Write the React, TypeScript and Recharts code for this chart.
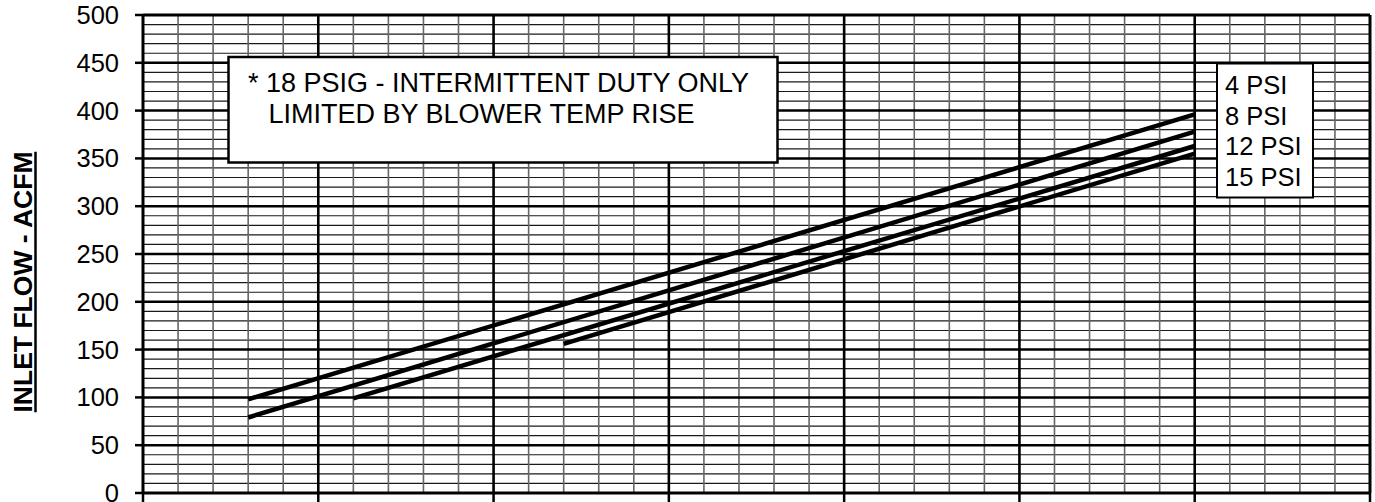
import React from "react";
import { LineChart, Line, XAxis, YAxis, ReferenceLine } from "recharts";

// ---- axes / grid values ----
const xMajorTicks = [0, 500, 1000, 1500, 2000, 2500, 3000, 3500];
const xMinorStep = 100;
const yMajorTicks = [0, 50, 100, 150, 200, 250, 300, 350, 400, 450, 500];
const yMinorStep = 10;

// ---- series (x = speed, y = inlet flow ACFM) ----
const psi4 = [
  { rpm: 300, cfm: 98 },
  { rpm: 3000, cfm: 396 },
];
const psi8 = [
  { rpm: 300, cfm: 79 },
  { rpm: 3000, cfm: 378 },
];
const psi12 = [
  { rpm: 600, cfm: 99 },
  { rpm: 3000, cfm: 363 },
];
const psi15 = [
  { rpm: 1200, cfm: 156 },
  { rpm: 3000, cfm: 355 },
];

const legendLabels = ["4 PSI", "8 PSI", "12 PSI", "15 PSI"];
const noteLines = ["* 18 PSIG - INTERMITTENT DUTY ONLY", "LIMITED BY BLOWER TEMP RISE"];
const yTitle = "INLET FLOW - ACFM";

const FONT = "'Liberation Sans', Arial, Helvetica, sans-serif";

const xMin = xMajorTicks[0];
const xMax = xMajorTicks[xMajorTicks.length - 1];
const yMin = yMajorTicks[0];
const yMax = yMajorTicks[yMajorTicks.length - 1];

const xMinor: number[] = [];
for (let v = xMin + xMinorStep; v < xMax; v += xMinorStep) {
  if (v % 500 !== 0) xMinor.push(v);
}
const yMinor: number[] = [];
for (let v = yMin + yMinorStep; v < yMax; v += yMinorStep) {
  if (v % 50 !== 0) yMinor.push(v);
}

const YTick = (props: any) => {
  const { x, y, payload } = props;
  return (
    <text x={x} y={y} dy="0.355em" textAnchor="end" fontSize={25.5} fontFamily={FONT} fill="#000">
      {payload.value}
    </text>
  );
};

export default function App() {
  const W = 1375;
  const H = 502;
  return (
    <div style={{ position: "absolute", left: 0, top: 0, width: W, height: H, background: "#fff" }}>
      <LineChart width={W} height={H} margin={{ top: 15, right: 5, bottom: 0, left: 0 }}>
        <XAxis
          dataKey="rpm"
          type="number"
          domain={[xMin, xMax]}
          ticks={xMajorTicks}
          tickSize={9}
          height={9}
          axisLine={false}
          tickLine={{ stroke: "#000", strokeWidth: 2.5 }}
          tickFormatter={() => ""}
          allowDataOverflow
        />
        <YAxis
          type="number"
          domain={[yMin, yMax]}
          ticks={yMajorTicks}
          width={143}
          tickSize={8}
          tickMargin={16}
          axisLine={false}
          tickLine={{ stroke: "#000", strokeWidth: 2.5 }}
          tick={<YTick />}
          interval={0}
          allowDataOverflow
        />
        {yMinor.map((v) => (
          <ReferenceLine key={"ym" + v} y={v} stroke="#1a1a1a" strokeWidth={1.2} />
        ))}
        {xMinor.map((v) => (
          <ReferenceLine key={"xm" + v} x={v} stroke="#666" strokeWidth={1.6} />
        ))}
        {yMajorTicks.map((v) => (
          <ReferenceLine key={"yM" + v} y={v} stroke="#000" strokeWidth={v === yMin || v === yMax ? 3 : 2.5} />
        ))}
        {xMajorTicks.map((v) => (
          <ReferenceLine key={"xM" + v} x={v} stroke="#000" strokeWidth={v === xMin || v === xMax ? 3 : 2.6} />
        ))}
        {[psi4, psi8, psi12, psi15].map((d, i) => (
          <Line
            key={"s" + i}
            data={d}
            dataKey="cfm"
            type="linear"
            stroke="#000"
            strokeWidth={4.5}
            dot={false}
            activeDot={false}
            isAnimationActive={false}
          />
        ))}
      </LineChart>
      <svg
        width={W}
        height={H}
        style={{ position: "absolute", left: 0, top: 0, pointerEvents: "none" }}
      >
        {/* note box */}
        <rect x={228.5} y={57} width={549} height={105.5} fill="#fff" stroke="#000" strokeWidth={2.5} />
        <text x={248} y={92} fontSize={27} fontFamily={FONT} fill="#000">
          {noteLines[0]}
        </text>
        <text x={268.5} y={122.5} fontSize={27} fontFamily={FONT} fill="#000">
          {noteLines[1]}
        </text>
        {/* legend box */}
        <rect x={1217} y={63.5} width={96} height={134} fill="#fff" stroke="#000" strokeWidth={2} />
        {legendLabels.map((t, i) => (
          <text key={t} x={1225} y={94 + i * 30.5} fontSize={25.5} fontFamily={FONT} fill="#000">
            {t}
          </text>
        ))}
        {/* y axis title */}
        <text
          transform="translate(32,282) rotate(-90)"
          textAnchor="middle"
          fontSize={26.5}
          fontWeight="bold"
          fontFamily={FONT}
          fill="#000"
        >
          {yTitle}
        </text>
        <line x1={35.5} y1={151.7} x2={35.5} y2={412.3} stroke="#000" strokeWidth={2.5} />
      </svg>
    </div>
  );
}
